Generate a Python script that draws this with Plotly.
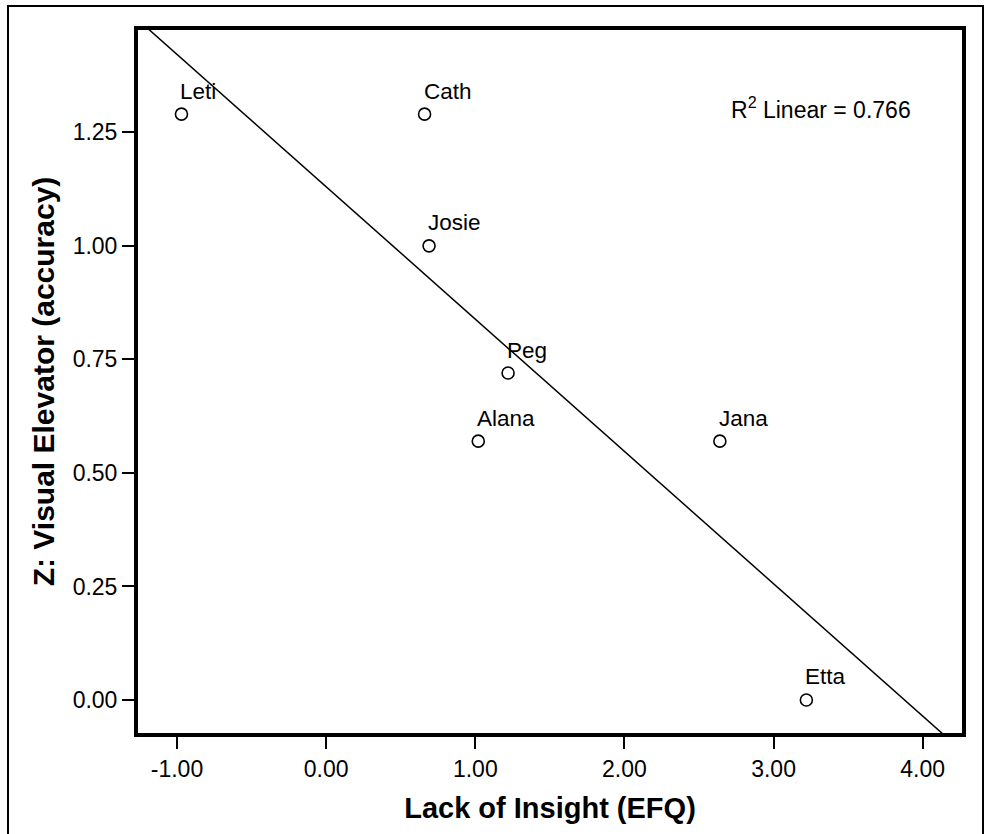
import numpy as np
import plotly.graph_objects as go

# ---- data ----
names = ["Leti", "Cath", "Josie", "Peg", "Alana", "Jana", "Etta"]
lack_of_insight = [-0.97, 0.66, 0.69, 1.22, 1.02, 2.64, 3.22]
visual_elevator = [1.29, 1.29, 1.00, 0.72, 0.57, 0.57, 0.00]
x_ticks = [-1.0, 0.0, 1.0, 2.0, 3.0, 4.0]
y_ticks = [0.0, 0.25, 0.50, 0.75, 1.00, 1.25]
x_range = [-1.2615, 4.2635]
y_range = [-0.0727, 1.4753]

W, H = 985, 834
ML, MR, MT, MB = 138, 23, 30, 101
PW, PH = W - ML - MR, H - MT - MB

FONT = "Liberation Sans, Arial, sans-serif"

slope, intercept = np.polyfit(lack_of_insight, visual_elevator, 1)
pred = np.polyval([slope, intercept], lack_of_insight)
ss_res = np.sum((np.array(visual_elevator) - pred) ** 2)
ss_tot = np.sum((np.array(visual_elevator) - np.mean(visual_elevator)) ** 2)
r2 = 1 - ss_res / ss_tot

fig = go.Figure()
fit_x = np.array(x_range)
fig.add_trace(go.Scatter(
    x=fit_x, y=slope * fit_x + intercept, mode="lines",
    line=dict(color="black", width=1.5), hoverinfo="skip", showlegend=False))
fig.add_trace(go.Scatter(
    x=lack_of_insight, y=visual_elevator, mode="markers",
    marker=dict(symbol="circle-open", size=12, color="black",
                line=dict(color="black", width=1.6)),
    showlegend=False))

for n, xv, yv in zip(names, lack_of_insight, visual_elevator):
    fig.add_annotation(x=xv, y=yv, text=n, showarrow=False,
                       xanchor="left", yanchor="middle", xshift=-3, yshift=23,
                       font=dict(family=FONT, size=22.5, color="black"))

fig.add_annotation(xref="paper", yref="paper",
                   x=(913 - ML) / PW, y=1 - (108 - MT) / PH,
                   xanchor="right", yanchor="middle", showarrow=False,
                   text=f"R<sup>2</sup> Linear = {r2:.3f}",
                   font=dict(family=FONT, size=23, color="black"))

# outer frame
fig.add_shape(type="rect", xref="paper", yref="paper",
              x0=(8 - ML) / PW, x1=(983 - ML) / PW,
              y0=1 - (840 - MT) / PH, y1=1 + (MT - 6) / PH,
              line=dict(color="black", width=2), layer="below")

axis_common = dict(showgrid=False, zeroline=False, showline=True, mirror=True,
                   linecolor="black", linewidth=4, ticks="outside", ticklen=12,
                   tickwidth=2, tickcolor="black",
                   tickfont=dict(family=FONT, size=23, color="black"))

fig.update_xaxes(range=x_range, tickvals=x_ticks,
                 ticktext=[f"{v:.2f}" for v in x_ticks],
                 title=dict(text="<b>Lack of Insight (EFQ)</b>", standoff=18,
                            font=dict(family=FONT, size=29, color="black")),
                 **axis_common)
fig.update_yaxes(range=y_range, tickvals=y_ticks,
                 ticktext=[f"{v:.2f}" for v in y_ticks],
                 title=dict(text="<b>Z: Visual Elevator (accuracy)</b>", standoff=10,
                            font=dict(family=FONT, size=30, color="black")),
                 **axis_common)

fig.update_layout(width=W, height=H,
                  margin=dict(l=ML, r=MR, t=MT, b=MB),
                  paper_bgcolor="white", plot_bgcolor="white",
                  font=dict(family=FONT, color="black"))

fig.write_html("out.html")
